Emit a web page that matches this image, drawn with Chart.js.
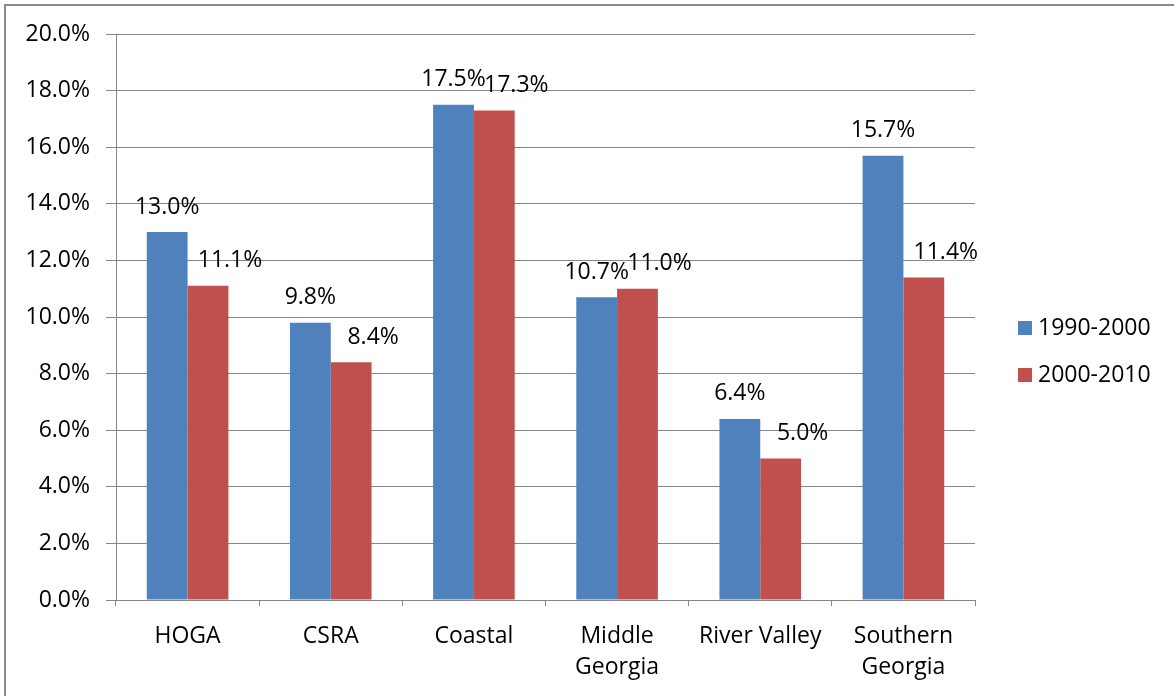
<!DOCTYPE html>
<html>
<head>
<meta charset="utf-8">
<script src="https://cdn.jsdelivr.net/npm/chart.js@4.4.1/dist/chart.umd.min.js"></script>
<style>
  html, body { margin: 0; padding: 0; background: #fff; }
  #wrap { position: relative; width: 1174px; height: 696px; }
</style>
</head>
<body>
<div id="wrap"><canvas id="myChart" width="1174" height="696"></canvas></div>
<script>
const regions = ['HOGA', 'CSRA', 'Coastal', ['Middle', 'Georgia'], 'River Valley', ['Southern', 'Georgia']];
const growth90s = [13.0, 9.8, 17.5, 10.7, 6.4, 15.7];
const growth00s = [11.1, 8.4, 17.3, 11.0, 5.0, 11.4];
const seriesNames = ['1990-2000', '2000-2010'];
const yTicks = [0, 2, 4, 6, 8, 10, 12, 14, 16, 18, 20];

const axisGray = '#868686';
const textFont = { family: "'Open Sans', 'Noto Sans', sans-serif", size: 23 };

// grey frame around the whole chart
const frame = {
  id: 'frame',
  beforeDraw(chart) {
    const c = chart.ctx;
    c.save();
    c.fillStyle = '#fff';
    c.fillRect(0, 0, chart.width, chart.height);
    c.strokeStyle = '#8c8c8c';
    c.lineWidth = 2;
    c.strokeRect(5, 5, chart.width + 20, chart.height + 20);
    c.restore();
  }
};

// value labels above each bar; second series nudged right like Excel does
const valueLabels = {
  id: 'valueLabels',
  afterDatasetsDraw(chart) {
    const c = chart.ctx;
    c.save();
    c.font = textFont.size + 'px ' + textFont.family;
    c.fillStyle = '#000';
    c.textAlign = 'center';
    c.textBaseline = 'middle';
    chart.data.datasets.forEach((ds, di) => {
      const meta = chart.getDatasetMeta(di);
      const shift = di === 1 ? 22 : 0;
      meta.data.forEach((bar, i) => {
        c.fillText(ds.data[i].toFixed(1) + '%', bar.x + shift, bar.y - 25);
      });
    });
    c.restore();
  }
};

// legend on the right, square swatches
const sideLegend = {
  id: 'sideLegend',
  afterDraw(chart) {
    const c = chart.ctx;
    c.save();
    c.font = textFont.size + 'px ' + textFont.family;
    c.textBaseline = 'middle';
    c.textAlign = 'left';
    chart.data.datasets.forEach((ds, di) => {
      const y = 328 + di * 47;
      c.fillStyle = ds.backgroundColor;
      c.fillRect(1018, y - 7, 14, 14);
      c.fillStyle = '#000';
      c.fillText(ds.label, 1038, y);
    });
    c.restore();
  }
};

new Chart(document.getElementById('myChart'), {
  type: 'bar',
  data: {
    labels: regions,
    datasets: [{
      label: seriesNames[0],
      data: growth90s,
      backgroundColor: '#4F81BD',
      categoryPercentage: 0.57,
      barPercentage: 1
    }, {
      label: seriesNames[1],
      data: growth00s,
      backgroundColor: '#C0504D',
      categoryPercentage: 0.57,
      barPercentage: 1
    }]
  },
  options: {
    responsive: false,
    animation: false,
    layout: { padding: { left: 0, top: 34, right: 199, bottom: 0 } },
    plugins: {
      legend: { display: false },
      tooltip: { enabled: false }
    },
    scales: {
      x: {
        grid: {
          offset: true,
          drawOnChartArea: false,
          drawTicks: true,
          tickLength: 6,
          color: axisGray
        },
        border: { color: axisGray, width: 1 },
        ticks: {
          color: '#000',
          font: Object.assign({}, textFont, { lineHeight: 1.35 }),
          padding: 15,
          maxRotation: 0,
          autoSkip: false
        },
        afterFit(scale) { scale.height = 96; }
      },
      y: {
        min: 0,
        max: 20,
        afterBuildTicks(scale) { scale.ticks = yTicks.map(v => ({ value: v })); },
        grid: { color: axisGray, tickLength: 10, drawTicks: true },
        border: { color: axisGray, width: 1 },
        ticks: {
          color: '#000',
          font: textFont,
          padding: 16,
          callback: v => v.toFixed(1) + '%'
        },
        afterFit(scale) { scale.width = 116; }
      }
    }
  },
  plugins: [frame, valueLabels, sideLegend]
});
</script>
</body>
</html>
